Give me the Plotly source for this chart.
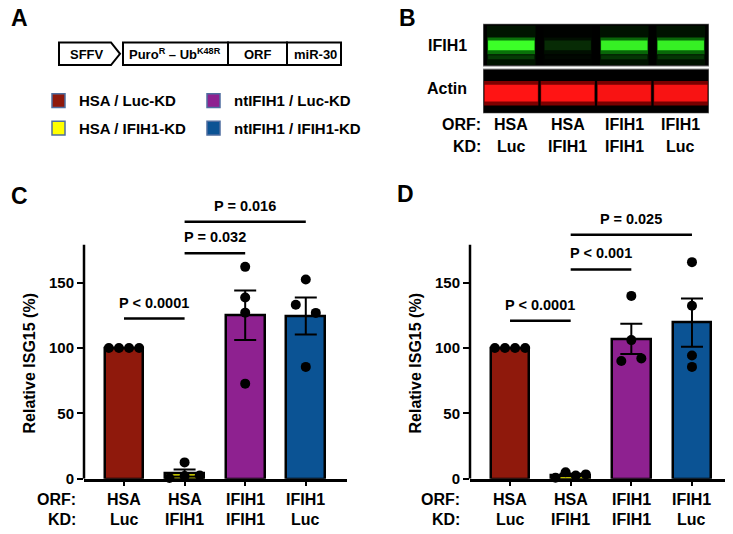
import numpy as np
import plotly.graph_objects as go

# the page body adds an 8px margin, so the figure is drawn 8px smaller and
# every position below is given in reference-picture pixels then shifted
OFF = 8
W, H = 733 - OFF, 534 - OFF
FONT = "Arial, 'Liberation Sans', Helvetica, sans-serif"

# ---------------------------------------------------------------------------
# Data
# ---------------------------------------------------------------------------
orf_labels = ["HSA", "HSA", "IFIH1", "IFIH1"]
kd_labels = ["Luc", "IFIH1", "IFIH1", "Luc"]
bar_colors = ["#8f190c", "#ffff00", "#8e2190", "#0b5394"]

legend_labels = ["HSA / Luc-KD", "HSA / IFIH1-KD", "ntIFIH1 / Luc-KD", "ntIFIH1 / IFIH1-KD"]
legend_colors = ["#8f190c", "#ffff00", "#8e2190", "#0b5394"]

# relative ISG15 (%), one list of replicates per bar
isg15_c = [
    [100, 100, 100, 100],
    [12.5, 0.5, 2.0, 2.5],
    [162, 138.6, 127, 72.7],
    [152.4, 133, 126.8, 85.5],
]
isg15_d = [
    [100, 100, 100, 100],
    [0.75, 5, 2.5, 3.3],
    [139.8, 106, 90, 92],
    [165.6, 132.3, 94.2, 85.5],
]

# significance brackets: (from bar, to bar), text, bracket height
sig_pairs_c = [(0, 1), (1, 2), (1, 3)]
sig_text_c = ["P < 0.0001", "P = 0.032", "P = 0.016"]
sig_height_c = [122.5, 172.5, 196.5]

sig_pairs_d = [(0, 1), (1, 2), (1, 3)]
sig_text_d = ["P < 0.0001", "P < 0.001", "P = 0.025"]
sig_height_d = [120.8, 160, 186.5]

# western blot relative band signal per lane
blot_orf = ["HSA", "HSA", "IFIH1", "IFIH1"]
blot_kd = ["Luc", "IFIH1", "IFIH1", "Luc"]
ifih1_signal = [1.0, 0.12, 0.9, 0.9]
actin_signal = [1.0, 1.0, 0.95, 0.95]

yticks = [0, 50, 100, 150]


def X(px):
    return (px - OFF) / W


def Y(py):
    return 1 - (py - OFF) / H


def txt(x, y, text, size, xref="paper", yref="paper", xanchor="center", **kw):
    return dict(x=x, y=y, xref=xref, yref=yref, text=text, showarrow=False,
                xanchor=xanchor, yanchor=kw.pop("yanchor", "middle"),
                font=dict(size=size, weight="bold"), **kw)


def dodge(vals, thresh=7.5):
    """Spread overlapping dots sideways, GraphPad style."""
    offs = [0.0] * len(vals)
    order = sorted(range(len(vals)), key=lambda i: vals[i])
    clusters = []
    for i in order:
        if clusters and vals[i] - vals[clusters[-1][-1]] < thresh:
            clusters[-1].append(i)
        else:
            clusters.append([i])
    for cl in clusters:
        n = len(cl)
        if n == 1:
            continue
        half = 0.165 if n == 2 else 0.25
        for k, i in enumerate(sorted(cl)):
            offs[i] = -half + 2 * half * k / (n - 1)
    return offs


fig = go.Figure()
shapes = []
annots = []

# ---------------------------------------------------------------------------
# Bar panels C and D
# ---------------------------------------------------------------------------
Y_TOP = 200
plot_bottom, plot_top = 486, 486 - Y_TOP * 1.328
panels = [
    ("x", "y", isg15_c, sig_pairs_c, sig_text_c, sig_height_c, 30, 78),
    ("x2", "y2", isg15_d, sig_pairs_d, sig_text_d, sig_height_d, 416, 462),
]

for xr, yr, data, pairs, texts, heights, title_x, lab_x in panels:
    means = [np.mean(v) for v in data]
    sems = [np.std(v, ddof=1) / np.sqrt(len(v)) for v in data]
    fig.add_trace(go.Bar(
        x=list(range(len(data))), y=means, width=0.64,
        marker=dict(color=bar_colors, line=dict(color="black", width=2.5)),
        error_y=dict(type="data", array=sems, color="black", thickness=2, width=11),
        xaxis=xr, yaxis=yr, showlegend=False,
    ))
    px, py = [], []
    for i, vals in enumerate(data):
        for o, v in zip(dodge(vals), vals):
            px.append(i + o)
            py.append(v)
    fig.add_trace(go.Scatter(
        x=px, y=py, mode="markers",
        marker=dict(color="black", size=10),
        cliponaxis=False, xaxis=xr, yaxis=yr, showlegend=False,
    ))

    # y axis line stops below the brackets
    shapes.append(dict(type="line", xref=f"{xr} domain", yref=yr, x0=0, x1=0,
                       y0=0, y1=179, line=dict(color="black", width=2.5)))

    for (a, b), t, h in zip(pairs, texts, heights):
        shapes.append(dict(type="line", xref=xr, yref=yr, x0=a, x1=b, y0=h, y1=h,
                           line=dict(color="black", width=2.5)))
        annots.append(txt((a + b) / 2, h, t, 14.5, xref=xr, yref=yr, yshift=16))

    annots.append(txt(X(title_x), Y(369), "Relative ISG15 (%)", 16, textangle=-90))

    for row_y, head, labs in [(507, "ORF:", orf_labels), (527, "KD:", kd_labels)]:
        annots.append(txt(X(lab_x), Y(row_y), head, 16, xanchor="right"))
        for i, lab in enumerate(labs):
            annots.append(txt(i, Y(row_y), lab, 16, xref=xr))

axis_common = dict(showgrid=False, zeroline=False, color="black")
fig.update_layout(
    xaxis=dict(domain=[X(84), X(347)], range=[-0.66, 3.68], showline=True,
               linewidth=2.5, linecolor="black", ticks="outside", ticklen=5,
               tickwidth=2, tickvals=[0, 1, 2, 3], showticklabels=False,
               anchor="y", **axis_common),
    yaxis=dict(domain=[Y(plot_bottom), Y(plot_top)], range=[0, Y_TOP],
               showline=False, ticks="outside", ticklen=6, tickwidth=2,
               tickvals=yticks, tickfont=dict(size=15, weight="bold"),
               anchor="x", **axis_common),
    xaxis2=dict(domain=[X(470), min(1, X(732))], range=[-0.66, 3.66], showline=True,
                linewidth=2.5, linecolor="black", ticks="outside", ticklen=5,
                tickwidth=2, tickvals=[0, 1, 2, 3], showticklabels=False,
                anchor="y2", **axis_common),
    yaxis2=dict(domain=[Y(plot_bottom), Y(plot_top)], range=[0, Y_TOP],
                showline=False, ticks="outside", ticklen=6, tickwidth=2,
                tickvals=yticks, tickfont=dict(size=15, weight="bold"),
                anchor="x2", **axis_common),
    # blot area, lanes 0..3, y in pixels from top of blot
    xaxis3=dict(domain=[X(483), X(709)], range=[-0.5, 3.5], visible=False, anchor="y3"),
    yaxis3=dict(domain=[Y(115), Y(24)], range=[91, 0], visible=False, anchor="x3"),
)

# ---------------------------------------------------------------------------
# Panel B: western blot
# ---------------------------------------------------------------------------
for y0, y1 in [(0, 43), (46, 91)]:
    shapes.append(dict(type="rect", xref="x3", yref="y3", x0=-0.5, x1=3.5, y0=y0, y1=y1,
                       fillcolor="black", line=dict(color="#8a8a8a", width=1), layer="below"))

for i, s in enumerate(ifih1_signal):
    shapes.append(dict(type="rect", xref="x3", yref="y3", x0=i - 0.43, x1=i + 0.43,
                       y0=2, y1=42, fillcolor=f"rgba(0,200,0,{0.10 * s:.3f})", line_width=0))
    shapes.append(dict(type="rect", xref="x3", yref="y3", x0=i - 0.42, x1=i + 0.42,
                       y0=14, y1=31, fillcolor=f"rgba(20,230,20,{0.45 * s:.3f})", line_width=0))
    shapes.append(dict(type="rect", xref="x3", yref="y3", x0=i - 0.41, x1=i + 0.41,
                       y0=17, y1=27, fillcolor=f"rgba(60,255,40,{s:.3f})", line_width=0))
    shapes.append(dict(type="rect", xref="x3", yref="y3", x0=i - 0.41, x1=i + 0.41,
                       y0=32, y1=36, fillcolor=f"rgba(20,180,20,{0.25 * s:.3f})", line_width=0))

for i, s in enumerate(actin_signal):
    shapes.append(dict(type="rect", xref="x3", yref="y3", x0=i - 0.48, x1=i + 0.48,
                       y0=58, y1=83, fillcolor=f"rgba(230,0,0,{0.55 * s:.3f})", line_width=0))
    shapes.append(dict(type="rect", xref="x3", yref="y3", x0=i - 0.47, x1=i + 0.47,
                       y0=62, y1=79, fillcolor=f"rgba(255,20,20,{s:.3f})", line_width=0))

annots.append(txt(X(447), Y(46), "IFIH1", 16))
annots.append(txt(X(447), Y(90), "Actin", 16))
for row_y, head, labs in [(126, "ORF:", blot_orf), (149, "KD:", blot_kd)]:
    annots.append(txt(X(483), Y(row_y), head, 16, xanchor="right"))
    for i, lab in enumerate(labs):
        annots.append(txt(i, Y(row_y), lab, 16, xref="x3"))

# ---------------------------------------------------------------------------
# Panel A: construct + legend
# ---------------------------------------------------------------------------
def P(x, y):
    return f"{X(x):.5f},{Y(y):.5f}"


shapes.append(dict(type="path", xref="paper", yref="paper",
                   path=f"M {P(59, 43)} L {P(111, 43)} L {P(120, 54.5)} L {P(111, 66)} L {P(59, 66)} Z",
                   line=dict(color="black", width=2), fillcolor="white"))
for x0, x1 in [(123, 228), (228, 287), (287, 341)]:
    shapes.append(dict(type="rect", xref="paper", yref="paper", x0=X(x0), x1=X(x1),
                       y0=Y(66), y1=Y(43), line=dict(color="black", width=2)))
for cx, t in [(87, "SFFV"), (175, "Puro<sup>R</sup> – Ub<sup>K48R</sup>"),
              (258, "ORF"), (315, "miR-30")]:
    annots.append(txt(X(cx), Y(55), t, 13))

legend_pos = [(52, 102), (52, 130), (207, 102), (207, 130)]
for (lx, ly), lab, col in zip(legend_pos, legend_labels, legend_colors):
    shapes.append(dict(type="rect", xref="paper", yref="paper", x0=X(lx), x1=X(lx + 13),
                       y0=Y(ly + 7), y1=Y(ly - 7), fillcolor=col,
                       line=dict(color="#4f6ea0", width=1.5)))
    annots.append(txt(X(lx + 25), Y(ly), lab, 15, xanchor="left"))

# panel letters (kept just inside the drawable area)
for t, lx, ly in [("A", 9, 18), ("B", 397, 18), ("C", 9, 199), ("D", 395, 197)]:
    annots.append(txt(X(lx), Y(ly), t, 23, xanchor="left"))

fig.update_layout(
    width=W, height=H,
    margin=dict(l=0, r=0, t=0, b=0),
    paper_bgcolor="white", plot_bgcolor="white",
    font=dict(family=FONT, color="black"),
    shapes=shapes, annotations=annots,
    bargap=0, showlegend=False,
)

fig.write_html("out.html")
